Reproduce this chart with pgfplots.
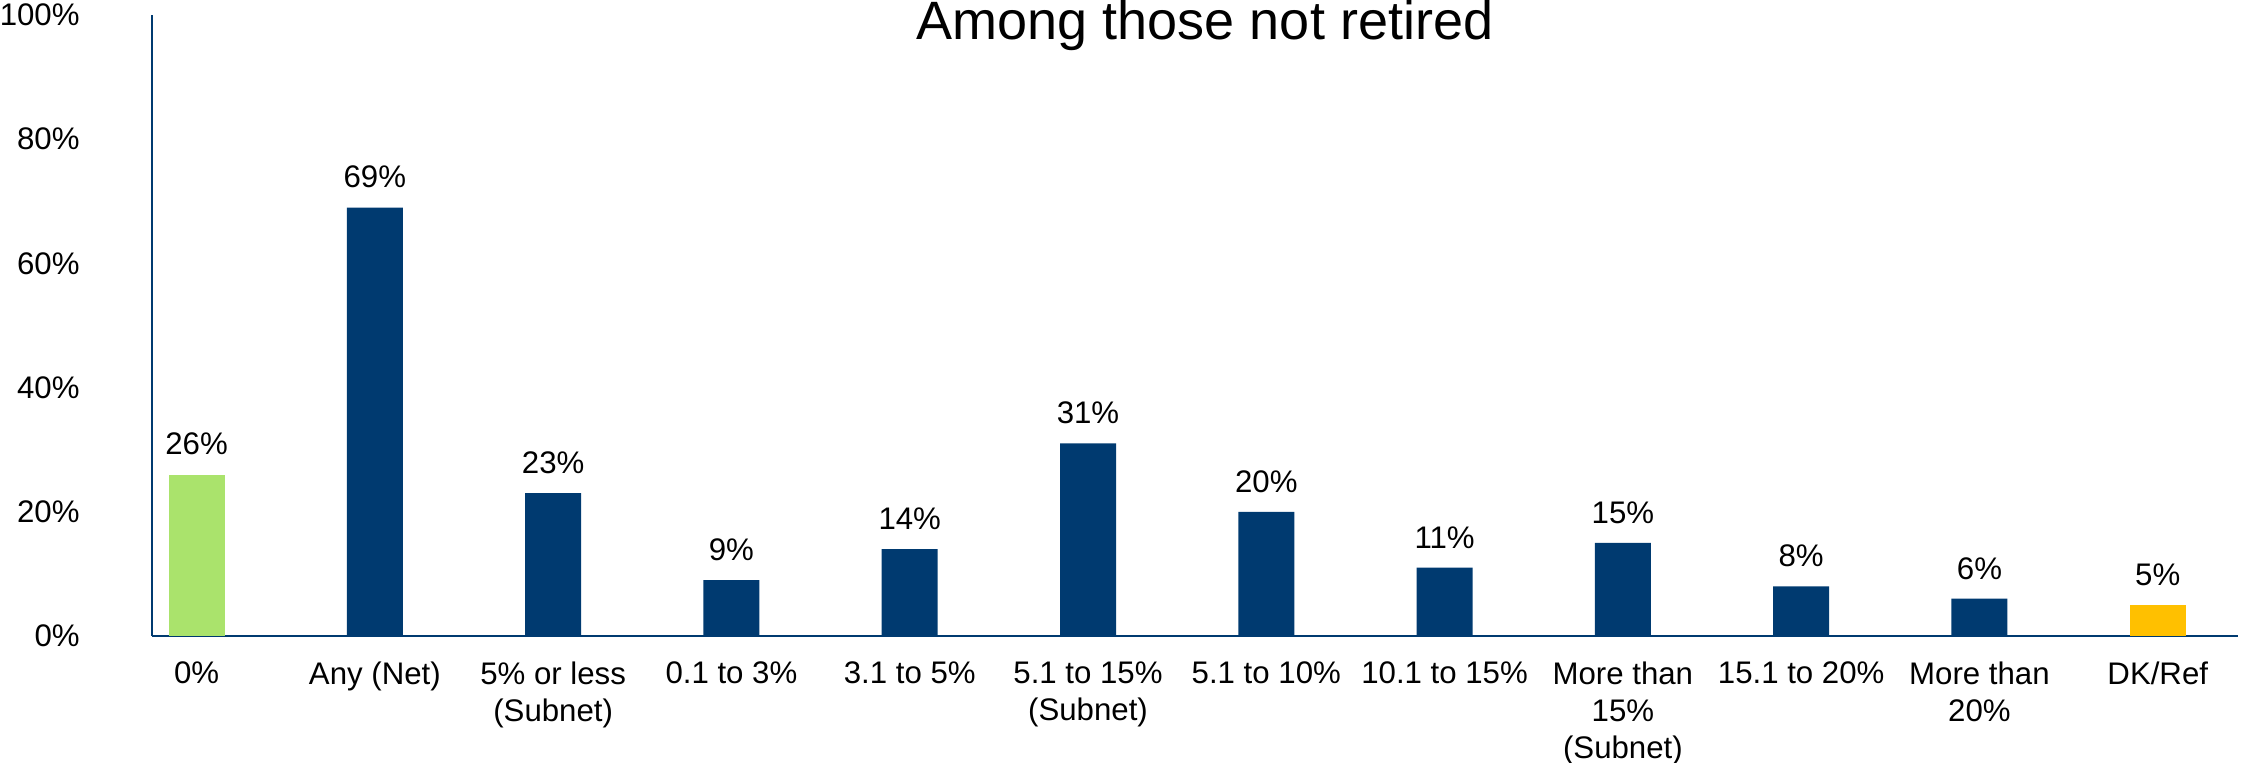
\documentclass[border=0pt]{standalone}
\usepackage{pgfplots}
\pgfplotsset{compat=1.18}
\usepackage{fontspec}
\setmainfont{Liberation Sans}
\definecolor{navy}{RGB}{0,58,112}
\definecolor{lgreen}{RGB}{170,227,108}
\definecolor{gold}{RGB}{255,192,0}
\begin{document}
\begin{tikzpicture}
\begin{axis}[
  at={(0,0)}, anchor=south west,
  scale only axis, width=1043pt, height=310.5pt,
  ybar, bar width=28pt, bar shift=0pt,
  xmin=-0.25, xmax=11.45, ymin=0, ymax=100,
  axis x line=bottom, axis y line=left,
  axis line style={-, navy, line width=1.3pt},
  major tick length=0pt,
  xtick={0,...,11},
  xticklabels={0\%, Any (Net), 5\% or less\\(Subnet), 0.1 to 3\%, 3.1 to 5\%, 5.1 to 15\%\\(Subnet), 5.1 to 10\%, 10.1 to 15\%, More than\\15\%\\(Subnet), 15.1 to 20\%, More than\\20\%, DK/Ref},
  xticklabel style={font=\fontsize{15.6}{18.7}\selectfont, align=center, anchor=north, inner sep=0pt, yshift=-12.5pt},
  ytick={0,20,40,60,80,100},
  yticklabels={0\%,20\%,40\%,60\%,80\%,100\%},
  yticklabel style={font=\fontsize{15.6}{18}\selectfont, anchor=east, inner sep=0pt, xshift=-36pt},
  nodes near coords={\pgfmathprintnumber[assume math mode=true,fixed,precision=0]{\pgfplotspointmeta}\%},
  every node near coord/.append style={font=\fontsize{15.6}{18}\selectfont, black, anchor=south, inner sep=0pt, yshift=9.5pt},
  clip=false,
]
\addplot[fill=lgreen, draw=none] coordinates {(0,26)};
\addplot[fill=navy, draw=none] coordinates {(1,69) (2,23) (3,9) (4,14) (5,31) (6,20) (7,11) (8,15) (9,8) (10,6)};
\addplot[fill=gold, draw=none] coordinates {(11,5)};
\end{axis}
\node[anchor=base, font=\fontsize{27}{30}\selectfont] at (526.5pt,298pt) {Among those not retired};
\pgfresetboundingbox
\path[use as bounding box] (-76pt,-63pt) rectangle (1047.5pt,318pt);
\end{tikzpicture}
\end{document}
